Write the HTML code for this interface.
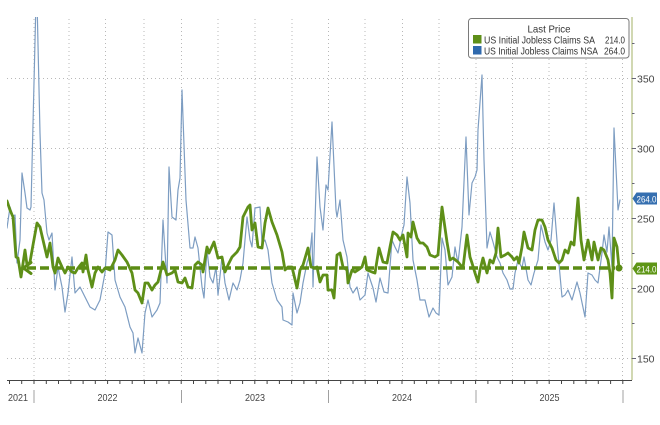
<!DOCTYPE html>
<html>
<head>
<meta charset="utf-8">
<style>
html,body{margin:0;padding:0;background:#fff;}
svg{display:block;}
text{font-family:"Liberation Sans","DejaVu Sans",sans-serif;}
</style>
</head>
<body>
<svg width="660" height="425" viewBox="0 0 660 425" xmlns="http://www.w3.org/2000/svg">
<defs><clipPath id="plot"><rect x="7" y="17" width="625" height="363"/></clipPath></defs>
<rect width="660" height="425" fill="#fff"/>
<path d="M7 78.5H632M7 148.5H632M7 218.5H632M7 288.5H632M7 358.5H632" stroke="#b8b8b8" stroke-width="1" stroke-dasharray="1,3" fill="none"/>
<path d="M34 19V380M69 19V380M105.5 19V380M144 19V380M181.5 19V380M218 19V380M255 19V380M292 19V380M328.5 19V380M365 19V380M402.5 19V380M439 19V380M476 19V380M512.5 19V380M549 19V380M586 19V380M622.5 19V380" stroke="#b8b8b8" stroke-width="1" stroke-dasharray="1,3" fill="none"/>
<g clip-path="url(#plot)" fill="none" stroke-linejoin="round" stroke-linecap="round">
<polyline stroke="#7d9dc2" stroke-width="1.2" points="7,228 10,207 13,216 15,215 17,263 20,240 22,173 25,193 27,208 30,210 31,207 36,0 37,0 40,133 42,193 44,200 47,233 49,240 52,233 55,290 58,267 62,287 65,312 68,293 72,257 75,293 80,287 85,297 90,307 95,310 100,300 105,273 108,232 112,235 115,280 120,297 125,307 130,327 133,333 135,353 138,338 142,353 145,313 148,300 152,317 157,310 160,303 163,220 167,283 169,167 172,217 176,220 178,190 180,178 182,90 186,200 190,248 193,248 195,237 198,248 202,287 204,298 207,250 210,277 213,283 216,267 218,295 222,257 225,283 229,300 233,283 237,290 240,280 243,263 247,217 250,240 252,247 255,208 260,207 262,243 265,240 268,250 272,283 277,300 282,307 283,320 288,322 292,325 293,293 297,313 300,303 303,283 307,263 310,253 312,233 313,287 317,157 320,207 323,230 326,185 328,190 332,122 336,210 337,217 340,200 343,240 347,257 350,287 353,293 357,287 360,300 365,295 368,273 373,288 376,302 380,278 384,292 388,293 392,240 395,247 398,253 402,233 404,225 407,177 410,203 413,260 417,280 420,300 425,300 429,317 433,308 436,313 439,315 442,238 445,250 448,285 452,277 455,247 458,263 462,227 466,137 469,215 472,183 475,177 477,170 478,130 482,75 484,160 487,248 490,232 493,242 497,257 500,263 503,273 507,280 510,289 513,289 515,273 518,260 522,268 524,257 528,280 531,285 534,273 538,260 541,225 545,242 548,250 551,240 554,203 558,253 562,297 565,295 568,290 572,300 577,282 580,293 585,317 588,273 592,275 595,280 598,283 602,253 604,235 607,252 609,227 612,267 614,128 618,210 620,200"/>
<line x1="27" y1="268" x2="615" y2="268" stroke="#5b8c14" stroke-width="3.5" stroke-dasharray="9,4" stroke-linecap="butt"/>
<polyline points="31,262.5 23.5,268 31,273.5" stroke="#5b8c14" stroke-width="3"/>
<polyline stroke="#5e8f18" stroke-width="2.8" points="7,201 10,210 13,217 16,257 18,258 21,277 25,250 27,265 30,262 33,245 37,223 40,227 43,240 47,257 50,243 53,267 55,273 58,258 62,267 65,273 68,267 72,272 75,273 78,268 82,263 83,272 86,255 88,270 92,287 95,273 98,267 102,272 105,268 110,270 115,260 118,250 122,255 127,262 132,273 135,290 138,293 142,303 145,283 148,283 152,290 155,285 158,282 163,262 167,275 172,273 175,270 178,282 182,283 185,278 188,287 192,288 195,265 198,262 202,265 203,272 207,247 209,253 214,242 218,258 222,257 225,272 228,265 232,257 237,252 240,247 243,217 248,207 250,205 252,230 255,223 258,247 262,248 265,223 268,208 272,222 277,235 282,252 285,270 288,267 292,267 297,288 300,270 303,265 308,248 311,267 315,268 317,267 320,282 323,275 327,275 328,290 332,290 334,298 337,255 340,253 343,267 347,270 348,283 352,270 355,272 358,270 362,267 365,257 367,270 372,272 375,273 379,248 383,262 387,263 390,247 393,232 397,235 400,240 403,235 407,257 408,233 411,237 413,222 417,238 420,243 423,243 427,247 430,255 435,257 438,255 442,207 447,242 450,260 453,258 458,262 463,268 467,235 470,257 472,263 475,273 478,282 480,270 483,258 487,273 490,260 493,263 496,253 498,228 501,257 505,255 508,253 512,257 514,260 517,257 519,263 522,247 524,232 528,248 532,250 535,230 538,220 542,220 545,227 548,240 552,248 556,260 559,263 562,260 565,250 568,253 571,242 574,245 578,198 581,240 584,260 588,240 592,260 594,242 598,260 601,248 604,250 608,260 610,273 612,298 614,238 617,247 619,268"/>
<circle cx="619" cy="268" r="3.5" fill="#5b8c14" stroke="none"/>
</g>
<line x1="632" y1="17" x2="632" y2="380" stroke="#a3b064" stroke-width="1"/>
<path d="M632 78.5H636M632 148.5H636M632 218.5H636M632 288.5H636M632 358.5H636M632 43.5H634.5M632 113.5H634.5M632 183.5H634.5M632 253.5H634.5M632 323.5H634.5" stroke="#667" stroke-width="1"/>
<g font-size="10.5" fill="#444">
<text x="637" y="82.5">350</text>
<text x="637" y="152.5">300</text>
<text x="637" y="222.5">250</text>
<text x="637" y="292.5">200</text>
<text x="637" y="362.5">150</text>
</g>
<polygon points="632.5,198.5 636.5,192.5 657,192.5 657,204.5 636.5,204.5" fill="#356fb0"/>
<text x="636.5" y="202.3" font-size="9.5" fill="#fff" textLength="20" lengthAdjust="spacingAndGlyphs">264.0</text>
<polygon points="632.5,268.5 636.5,262.5 657,262.5 657,274.5 636.5,274.5" fill="#5e9616"/>
<text x="636.5" y="272.3" font-size="9.5" fill="#fff" textLength="20" lengthAdjust="spacingAndGlyphs">214.0</text>
<line x1="7" y1="380.5" x2="632" y2="380.5" stroke="#444" stroke-width="1"/>
<path d="M9.5 380v4M21.7 380v4M34 380v4M46.3 380v4M58.5 380v4M70.8 380v4M83.1 380v4M95.3 380v4M107.6 380v4M119.9 380v4M132.2 380v4M144.4 380v4M156.7 380v4M169 380v4M181.2 380v4M193.5 380v4M205.8 380v4M218 380v4M230.3 380v4M242.6 380v4M254.8 380v4M267.1 380v4M279.4 380v4M291.6 380v4M303.9 380v4M316.2 380v4M328.4 380v4M340.7 380v4M353 380v4M365.2 380v4M377.5 380v4M389.8 380v4M402 380v4M414.3 380v4M426.6 380v4M438.8 380v4M451.1 380v4M463.4 380v4M475.6 380v4M487.9 380v4M500.2 380v4M512.4 380v4M524.7 380v4M537 380v4M549.2 380v4M561.5 380v4M573.8 380v4M586 380v4M598.3 380v4M610.6 380v4M622.8 380v4" stroke="#444" stroke-width="1"/>
<path d="M34 390V403M181.5 390V403M328.5 390V403M476 390V403M623 390V403" stroke="#a0a0a0" stroke-width="1"/>
<g font-size="10.5" fill="#444" text-anchor="middle">
<text x="18" y="401" textLength="20" lengthAdjust="spacingAndGlyphs">2021</text>
<text x="107.5" y="401" textLength="20" lengthAdjust="spacingAndGlyphs">2022</text>
<text x="255" y="401" textLength="20" lengthAdjust="spacingAndGlyphs">2023</text>
<text x="402" y="401" textLength="20" lengthAdjust="spacingAndGlyphs">2024</text>
<text x="549.5" y="401" textLength="20" lengthAdjust="spacingAndGlyphs">2025</text>
</g>
<rect x="468.5" y="18.5" width="160.5" height="39.5" rx="3" ry="3" fill="#fff" stroke="#7a7a7a" stroke-width="1"/>
<text x="549" y="32.5" font-size="10.5" fill="#333" text-anchor="middle" textLength="43" lengthAdjust="spacingAndGlyphs">Last Price</text>
<rect x="473" y="35" width="8.5" height="8.5" fill="#5e8f18"/>
<rect x="473" y="46" width="8.5" height="8.5" fill="#2f69ad"/>
<g font-size="10.5" fill="#333">
<text x="484" y="43.5" textLength="111" lengthAdjust="spacingAndGlyphs">US Initial Jobless Claims SA</text>
<text x="605" y="43.5" textLength="20" lengthAdjust="spacingAndGlyphs">214.0</text>
<text x="484" y="54.5" textLength="114" lengthAdjust="spacingAndGlyphs">US Initial Jobless Claims NSA</text>
<text x="604" y="54.5" textLength="21" lengthAdjust="spacingAndGlyphs">264.0</text>
</g>
</svg>
</body>
</html>
